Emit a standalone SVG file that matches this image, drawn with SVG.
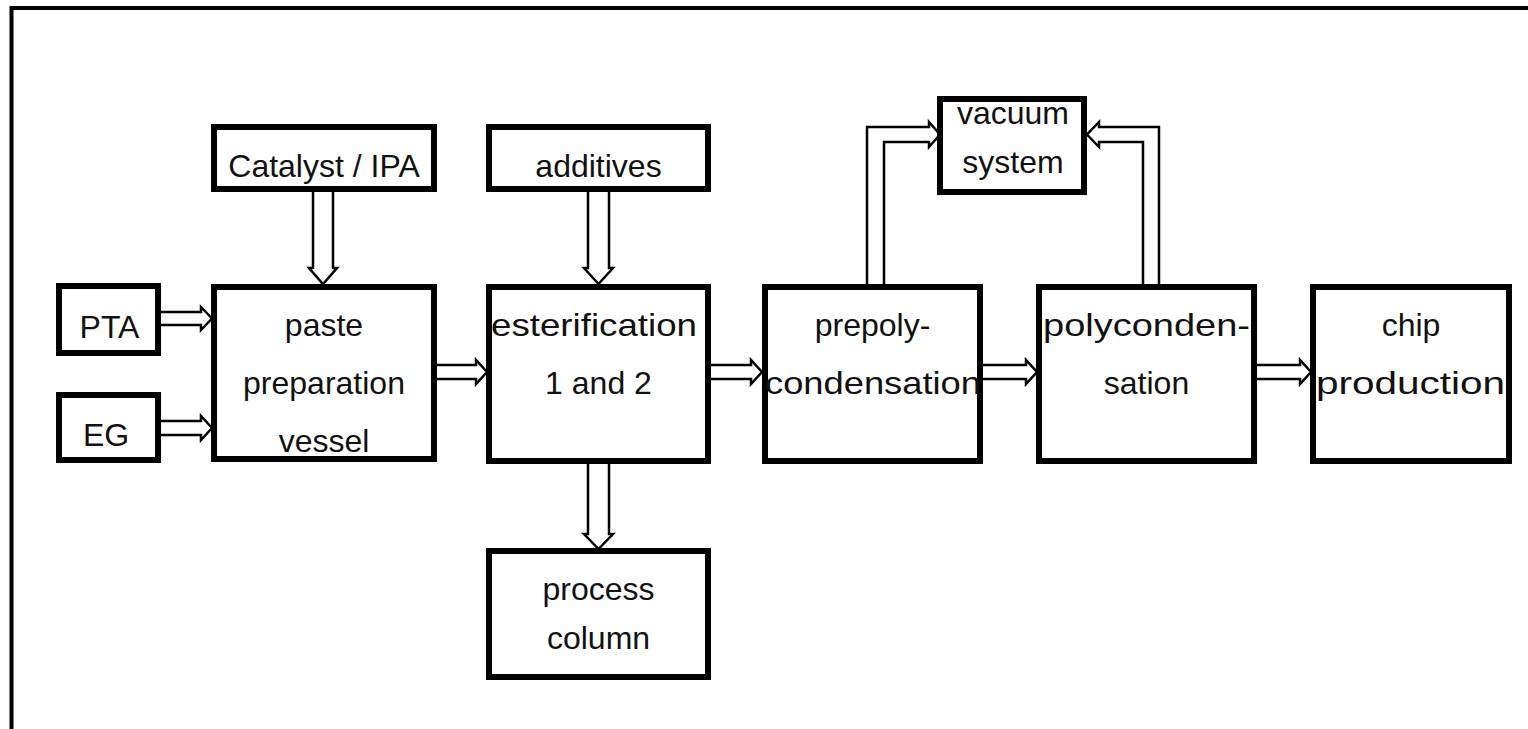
<svg xmlns="http://www.w3.org/2000/svg" width="1528" height="729" viewBox="0 0 1528 729">
<style>
.box{fill:#fff;stroke:#000;stroke-width:6}
.t{font-family:"Liberation Sans",Arial,sans-serif;font-size:32px;fill:#111;text-anchor:middle}
.arr{fill:none;stroke:#000;stroke-width:2.5;stroke-linejoin:miter}
.frame{fill:none;stroke:#000;stroke-width:4}
</style>
<rect width="1528" height="729" fill="#fff"/>
<path class="frame" d="M11.5,729 V8 H1528"/>
<g id="connectors">
<path class="arr" d="M161,312 H201 V307 L212,318.5 L201,330 V325 H161"/>
<path class="arr" d="M161,421 H201 V416 L212,428 L201,440 V435 H161"/>
<path class="arr" d="M437,365 H476 V360 L487,372 L476,384 V379 H437"/>
<path class="arr" d="M711,365 H751 V360 L762,372 L751,384 V379 H711"/>
<path class="arr" d="M983,365 H1026 V360 L1037,372 L1026,384 V379 H983"/>
<path class="arr" d="M1257,365 H1300 V360 L1311,372 L1300,384 V379 H1257"/>
<path class="arr" d="M313,192 V268 H309 L323,284 L337,268 H333 V192"/>
<path class="arr" d="M588,192 V268 H584 L598.5,284 L613,268 H609 V192"/>
<path class="arr" d="M588,464 V534 H584 L598.5,549 L613,534 H609 V464"/>
<path class="arr" d="M867,285 V127 H929 V122 L940,134.5 L929,147 V142 H884 V285"/>
<path class="arr" d="M1159,285 V127 H1099 V122 L1087,134.5 L1099,147 V142 H1143 V285"/>
</g>
<g id="catalyst"><rect class="box" x="214" y="127" width="220" height="62"/><text class="t" x="324" y="177">Catalyst / IPA</text></g>
<g id="additives"><rect class="box" x="489" y="127" width="219" height="62"/><text class="t" x="598.5" y="177">additives</text></g>
<g id="vacuum"><rect class="box" x="940" y="99" width="144" height="93"/><text class="t" x="1013" y="124">vacuum</text><text class="t" x="1013" y="173">system</text></g>
<g id="pta"><rect class="box" x="59" y="286" width="99" height="67"/><text class="t" x="109.5" y="338">PTA</text></g>
<g id="eg"><rect class="box" x="59" y="395" width="99" height="65"/><text class="t" x="106" y="446">EG</text></g>
<g id="paste"><rect class="box" x="214" y="287" width="220" height="172"/><text class="t" x="324" y="336">paste</text><text class="t" x="324" y="394">preparation</text><text class="t" x="324" y="452">vessel</text></g>
<g id="esterification"><rect class="box" x="489" y="287" width="219" height="174"/><text class="t" x="594" y="336" textLength="206" lengthAdjust="spacingAndGlyphs">esterification</text><text class="t" x="598.5" y="394">1 and 2</text></g>
<g id="prepoly"><rect class="box" x="765" y="287" width="215" height="174"/><text class="t" x="872.5" y="336">prepoly-</text><text class="t" x="873" y="394" textLength="216" lengthAdjust="spacingAndGlyphs">condensation</text></g>
<g id="poly"><rect class="box" x="1039" y="287" width="215" height="174"/><text class="t" x="1146.5" y="336" textLength="207" lengthAdjust="spacingAndGlyphs">polyconden-</text><text class="t" x="1146.5" y="394">sation</text></g>
<g id="chip"><rect class="box" x="1313" y="287" width="196" height="174"/><text class="t" x="1411" y="336">chip</text><text class="t" x="1410.5" y="394" textLength="189" lengthAdjust="spacingAndGlyphs">production</text></g>
<g id="process"><rect class="box" x="489" y="551" width="219" height="126"/><text class="t" x="598.5" y="600">process</text><text class="t" x="598.5" y="649">column</text></g>
</svg>
